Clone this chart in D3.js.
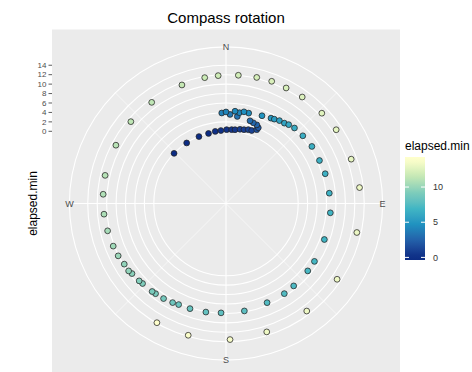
<!DOCTYPE html>
<html>
<head>
<meta charset="utf-8">
<script src="https://cdn.jsdelivr.net/npm/d3@7"></script>
<style>
  body { margin: 0; background: #fff; }
  svg { display: block; font-family: "Liberation Sans", Arial, sans-serif; }
</style>
</head>
<body>
<div id="chart"></div>
<script>
// compass heading (degrees, clockwise from N) and elapsed time (min)
var heading = [314, 327, 338, 346, 351.5, 356, 0.5, 4.4, 7, 10.7, 13.7, 16.8, 19.4, 22.6,
  23.1, 21.4, 18.7, 16.2, 7.4, 2.6, 357.3, 0, 8.4, 5.6, 14.1, 11.1, 22.3, 27.8, 29.8, 32.8,
  36, 38.5, 42.2, 48.6, 56.4, 65.3, 73.3, 84.3, 95.1, 110.1, 123.2, 129.5, 140.6, 147.1,
  157.5, 170.3, 182.6, 190.5, 198.9, 205.1, 208.3, 213.3, 218, 220, 226.2, 228.3, 233.3,
  235.3, 239.2, 244.1, 249.3, 257, 265, 274.3, 283.1, 297.9, 310.7, 323.7, 339.6, 350.4,
  356.5, 5.5, 13.7, 20.5, 27.5, 35.6, 46.7, 56.2, 70.5, 83.2, 102.5, 124.3, 143.1, 162.4,
  178.3, 196, 210.1];
var elapsed = [0, 0, 0, 0, 0.15, 0.2, 0.35, 0.4, 0.45, 0.7, 0.8, 1.05, 1.1, 1.65,
  2.15, 2.6, 2.75, 2.95, 3.3, 3.6, 3.9, 4.1, 4.15, 4.35, 4.45, 4.5, 4.8, 5.15, 5.3, 5.6,
  5.75, 6.05, 6.3, 6.4, 6.55, 6.5, 6.65, 6.7, 6.9, 6.9, 7.1, 7.15, 7.3, 7.45,
  7.45, 7.8, 7.9, 8.1, 8.25, 8.35, 8.55, 8.8, 8.95, 9.05, 9.2, 9.35, 9.55,
  9.8, 9.8, 10.1, 10.25, 10.45, 10.65, 10.8, 11.0, 11.1, 11.3, 11.3, 11.5, 11.75,
  11.85, 12.0, 12.2, 12.35, 12.3, 12.45, 12.6, 12.8, 12.85, 13.2, 13.1, 13.2, 13.2, 13.25,
  13.55, 13.75, 13.9];

var rBreaks = [0, 2, 4, 6, 8, 10, 12, 14];
var compassBreaks = [0, 90, 180, 270];
var compassMinor = [45, 135, 225, 315];
var compassLabels = ["N", "E", "S", "W"];
var legendBreaks = [0, 5, 10];
var palette = ["#0c2c84", "#225ea8", "#1d91c0", "#41b6c4", "#7fcdbb", "#c7e9b4", "#ffffcc"];

var width = 472, height = 372;
var panel = { x: 52, y: 29.5, size: 348 };
var cx = panel.x + panel.size / 2,
    cy = panel.y + panel.size / 2;

var svg = d3.select("#chart").append("svg")
  .attr("width", width)
  .attr("height", height);

var maxE = d3.max(elapsed);

var theta = d3.scaleLinear().domain([0, 360]).range([0, 2 * Math.PI]);
// r range: expanded y limits -> 0..0.4 of panel
var rScale = d3.scaleLinear().domain([-15.3, 14.2]).range([0, 0.4 * panel.size]);
var outerR = 0.45 * panel.size;

var color = d3.scaleLinear()
  .domain(palette.map(function(c, i) { return i / (palette.length - 1) * maxE; }))
  .range(palette)
  .interpolate(d3.interpolateLab);

// panel
svg.append("rect")
  .attr("x", panel.x).attr("y", panel.y)
  .attr("width", panel.size).attr("height", panel.size)
  .attr("fill", "#ebebeb");

var g = svg.append("g").attr("transform", "translate(" + cx + "," + cy + ")");

// theta grid
g.selectAll("line.minor")
  .data(compassMinor)
  .enter().append("line")
  .attr("x1", 0).attr("y1", 0)
  .attr("x2", function(d) { return outerR * Math.sin(theta(d)); })
  .attr("y2", function(d) { return -outerR * Math.cos(theta(d)); })
  .attr("stroke", "#fff").attr("stroke-width", 0.55);

g.selectAll("line.major")
  .data(compassBreaks)
  .enter().append("line")
  .attr("x1", 0).attr("y1", 0)
  .attr("x2", function(d) { return outerR * Math.sin(theta(d)); })
  .attr("y2", function(d) { return -outerR * Math.cos(theta(d)); })
  .attr("stroke", "#fff").attr("stroke-width", 1.1);

// r grid circles
g.selectAll("circle.grid")
  .data(rBreaks.map(function(d) { return rScale(d); }).concat([outerR]))
  .enter().append("circle")
  .attr("r", function(d) { return d; })
  .attr("fill", "none")
  .attr("stroke", "#fff").attr("stroke-width", 1.1);

// points
var pts = heading.map(function(h, i) { return { h: h, e: elapsed[i] }; });
g.selectAll("circle.pt")
  .data(pts)
  .enter().append("circle")
  .attr("cx", function(d) { return rScale(d.e) * Math.sin(theta(d.h)); })
  .attr("cy", function(d) { return -rScale(d.e) * Math.cos(theta(d.h)); })
  .attr("r", 2.9)
  .attr("fill", function(d) { return color(d.e); })
  .attr("stroke", "#222")
  .attr("stroke-width", 0.75);

// compass labels
g.selectAll("text.compass")
  .data(compassBreaks)
  .enter().append("text")
  .attr("x", function(d) { return outerR * Math.sin(theta(d)); })
  .attr("y", function(d) { return -outerR * Math.cos(theta(d)); })
  .attr("dy", "0.35em")
  .attr("text-anchor", "middle")
  .attr("font-size", 9)
  .attr("fill", "#4d4d4d")
  .text(function(d, i) { return compassLabels[i]; });

// r axis on the left
var ax = svg.append("g");
ax.selectAll("line")
  .data(rBreaks)
  .enter().append("line")
  .attr("x1", panel.x - 3.5).attr("x2", panel.x)
  .attr("y1", function(d) { return cy - rScale(d); })
  .attr("y2", function(d) { return cy - rScale(d); })
  .attr("stroke", "#333").attr("stroke-width", 0.8);
ax.selectAll("text")
  .data(rBreaks)
  .enter().append("text")
  .attr("x", panel.x - 5.5)
  .attr("y", function(d) { return cy - rScale(d); })
  .attr("dy", "0.35em")
  .attr("text-anchor", "end")
  .attr("font-size", 8)
  .attr("fill", "#4d4d4d")
  .text(function(d) { return d; });

svg.append("text")
  .attr("transform", "translate(37," + cy + ") rotate(-90)")
  .attr("text-anchor", "middle")
  .attr("font-size", 12)
  .attr("fill", "#000")
  .text("elapsed.min");

// title
svg.append("text")
  .attr("x", cx).attr("y", 23)
  .attr("text-anchor", "middle")
  .attr("font-size", 15)
  .attr("fill", "#000")
  .text("Compass rotation");

// colour bar legend
var bar = { x: 405, y0: 157, y1: 260, w: 20 };
var legY = d3.scaleLinear().domain([0, maxE]).range([257.4, 159.6]);

var grad = svg.append("defs").append("linearGradient")
  .attr("id", "cbar")
  .attr("x1", 0).attr("y1", 1).attr("x2", 0).attr("y2", 0);
d3.range(0, 21).forEach(function(i) {
  var yy = bar.y1 - i / 20 * (bar.y1 - bar.y0);
  var v = Math.max(0, Math.min(maxE, legY.invert(yy)));
  grad.append("stop").attr("offset", (i / 20 * 100) + "%").attr("stop-color", color(v));
});

svg.append("text")
  .attr("x", bar.x).attr("y", 149.5)
  .attr("font-size", 12)
  .attr("fill", "#000")
  .text("elapsed.min");

svg.append("rect")
  .attr("x", bar.x).attr("y", bar.y0)
  .attr("width", bar.w).attr("height", bar.y1 - bar.y0)
  .attr("fill", "url(#cbar)");

var lg = svg.append("g");
legendBreaks.forEach(function(b) {
  var yy = legY(b);
  lg.append("line").attr("x1", bar.x).attr("x2", bar.x + 4)
    .attr("y1", yy).attr("y2", yy).attr("stroke", "#fff").attr("stroke-width", 1);
  lg.append("line").attr("x1", bar.x + bar.w - 4).attr("x2", bar.x + bar.w)
    .attr("y1", yy).attr("y2", yy).attr("stroke", "#fff").attr("stroke-width", 1);
  lg.append("text").attr("x", bar.x + bar.w + 8).attr("y", yy).attr("dy", "0.35em")
    .attr("font-size", 9).attr("fill", "#333").text(b);
});
</script>
</body>
</html>
